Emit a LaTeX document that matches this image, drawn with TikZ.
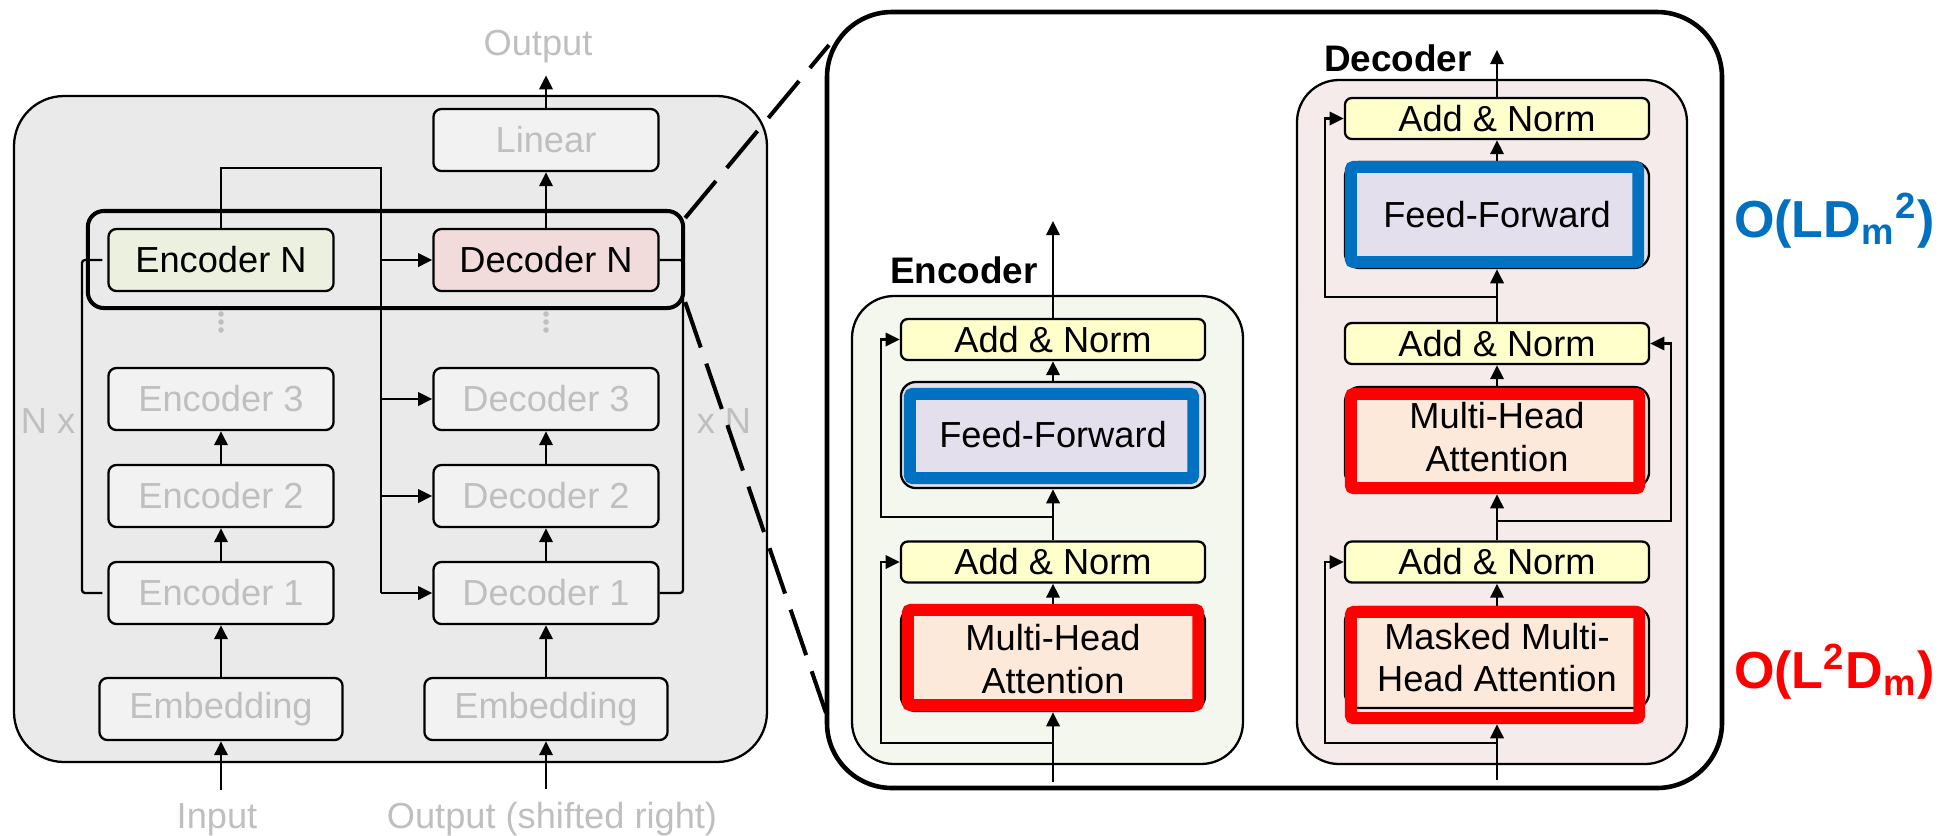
\documentclass[tikz,border=0pt]{standalone}
\usepackage{fontspec}
\setmainfont{Liberation Sans}
\usetikzlibrary{arrows.meta,calc}

\definecolor{panelgray}{RGB}{234,234,234}
\definecolor{boxgray}{RGB}{242,242,242}
\definecolor{txtgray}{RGB}{191,191,191}
\definecolor{encgreen}{RGB}{235,241,222}
\definecolor{decpink}{RGB}{242,220,219}
\definecolor{encpanel}{RGB}{244,247,238}
\definecolor{decpanel}{RGB}{245,235,235}
\definecolor{normyellow}{RGB}{255,255,204}
\definecolor{fflav}{RGB}{228,223,236}
\definecolor{attpeach}{RGB}{253,233,217}
\definecolor{cxblue}{RGB}{0,112,192}
\definecolor{cxred}{RGB}{255,0,0}

\tikzset{
  arr/.style={-{Triangle[length=4pt,width=3.8pt]}},
  layer/.style={draw,rounded corners=0.08cm,fill=boxgray,text=txtgray,minimum width=2.25cm,minimum height=0.62cm,inner sep=0pt},
  norm/.style={draw,fill=normyellow,rounded corners=0.07cm,minimum width=3.04cm,minimum height=0.41cm,inner sep=0pt},
  blk/.style={draw,rounded corners=0.15cm,minimum width=3.04cm,inner sep=0pt,align=center},
  ffline/.style={draw=cxblue,line width=3.4pt,rounded corners=0.03cm},
  attline/.style={draw=cxred,line width=3.4pt,rounded corners=0.03cm},
  title/.style={anchor=base west,inner sep=0pt,font=\bfseries\fontsize{10.5}{12.5}\selectfont},
  cx/.style={anchor=base west,inner sep=0pt,font=\bfseries\fontsize{14.8}{16}\selectfont}
}

\begin{document}
\begin{tikzpicture}[x=0.01cm,y=-0.01cm,line width=0.65pt,every node/.style={font=\fontsize{10.3}{12.2}\selectfont}]
\useasboundingbox (0,0) rectangle (1950,835);

% stack of layers
\draw[fill=panelgray,rounded corners=0.5cm] (14,96) rectangle (767,762);
\node[layer] (lin) at (546,140) {Linear};
\node[layer,fill=encgreen,text=black] (encN) at (221,260) {Encoder N};
\node[layer,fill=decpink,text=black] (decN) at (546,260) {Decoder N};
\foreach \i/\y in {3/399,2/496,1/593}{
  \node[layer] (enc\i) at (221,\y) {Encoder \i};
  \node[layer] (dec\i) at (546,\y) {Decoder \i};
}
\node[layer,minimum width=2.43cm] (embE) at (221,709) {Embedding};
\node[layer,minimum width=2.43cm] (embD) at (546,709) {Embedding};
\foreach \x in {221,546} \foreach \y in {314,322,330} \fill[txtgray] (\x,\y) circle (0.028cm);

\node[text=txtgray,anchor=base] (outL) at (538,55) {Output};
\node[text=txtgray,anchor=base] (inL) at (217,828) {Input};
\node[text=txtgray,anchor=base] (outR) at (552,828) {Output (shifted right)};
\node[text=txtgray,anchor=base] (nx) at (48,433) {N x};
\node[text=txtgray,anchor=base] (xn) at (724,433) {x N};

\foreach \a/\b in {embE/enc1,enc1/enc2,enc2/enc3,embD/dec1,dec1/dec2,dec2/dec3,decN/lin}
  \draw[arr] (\a.north) -- (\b.south);
\draw[arr] (lin.north) -- (lin |- outL.south);
\draw[arr] (embE |- inL.north) -- (embE.south);
\draw[arr] (embD |- outR.north) -- (embD.south);

\coordinate (bus) at (381,168);
\draw (encN.north) |- (bus) -- (bus |- dec1.west);
\foreach \d in {decN,dec3,dec2,dec1} \draw[arr] (bus |- \d.west) -- (\d.west);
\draw[rounded corners=0.03cm,shorten <=0.05cm,shorten >=0.05cm] (enc1.west) -- (82,593) |- (encN.west);
\draw[rounded corners=0.03cm] (dec1.east) -- (683,593) |- (decN.east);

\node[draw,line width=1.15pt,rounded corners=0.16cm,minimum width=5.95cm,minimum height=0.97cm] (zoom) at (385.5,259.5) {};

% zoomed block
\draw[line width=1.3pt,fill=white,rounded corners=0.65cm] (827,12) rectangle (1722,788);
\coordinate (zt) at (829,45);
\coordinate (zb) at (826,713);
\draw[line width=1.15pt,dash pattern=on 0.48cm off 0.17cm] ($(zoom.north east)+(0,9)$) -- (zt);
\draw[line width=1.15pt,dash pattern=on 0.48cm off 0.17cm] ($(zoom.south east)+(0,-8)$) -- (zb);

% encoder
\draw[fill=encpanel,rounded corners=0.42cm] (852,296) rectangle (1243,764);
\node[title] (encT) at (889,283) {Encoder};
\node[norm] (anE2) at (1053,339.5) {Add \& Norm};
\node[blk,fill=fflav,minimum height=1.06cm] (ffE) at (1053,435) {Feed-Forward};
\node[norm] (anE1) at (1053,562) {Add \& Norm};
\node[blk,fill=attpeach,minimum height=1.04cm] (mhaE) at (1053,659) {Multi-Head\\Attention};
\coordinate (inE) at (1053,782);
\coordinate (outE) at (1053,221);
\coordinate (tapE1) at (1053,743);
\coordinate (tapE2) at (1053,517);
\draw[arr] (inE) -- (mhaE.south);
\draw[arr] (mhaE.north) -- (anE1.south);
\draw[arr] (anE1.north) -- (ffE.south);
\draw[arr] (ffE.north) -- (anE2.south);
\draw[arr] (anE2.north) -- (outE);
\draw[arr] (tapE1) -| ($(anE1.west)+(-19,0)$) -- (anE1.west);
\draw[arr] (tapE2) -| ($(anE2.west)+(-19,0)$) -- (anE2.west);
\draw[ffline] ($(ffE.north west)+(10,13)$) rectangle ($(ffE.south east)+(-13,-11)$);
\draw[attline] ($(mhaE.north west)+(8,4)$) rectangle ($(mhaE.south east)+(-8,-7)$);

% decoder
\draw[fill=decpanel,rounded corners=0.42cm] (1297,80) rectangle (1687,764);
\node[title] (decT) at (1323,71) {Decoder};
\node[norm] (anD3) at (1497,118.5) {Add \& Norm};
\node[blk,fill=fflav,minimum height=1.06cm] (ffD) at (1497,215) {Feed-Forward};
\node[norm] (anD2) at (1497,343.5) {Add \& Norm};
\node[blk,fill=attpeach,minimum height=1.0cm] (mhaD) at (1497,437) {Multi-Head\\Attention};
\node[norm] (anD1) at (1497,562) {Add \& Norm};
\node[blk,fill=attpeach,minimum height=1.01cm] (mmhaD) at (1497,657.5) {Masked Multi-\\Head Attention};
\coordinate (inD) at (1497,780);
\coordinate (outD) at (1497,50);
\coordinate (tapD1) at (1497,743);
\coordinate (tapD2) at (1497,521);
\coordinate (tapD3) at (1497,297);
\draw[arr] (inD) -- ($(mmhaD.south)+(0,15)$);
\draw[arr] (mmhaD.north) -- (anD1.south);
\draw[arr] (anD1.north) -- ($(mhaD.south)+(0,6)$);
\draw[arr] (mhaD.north) -- (anD2.south);
\draw[arr] (anD2.north) -- (ffD.south);
\draw[arr] (ffD.north) -- (anD3.south);
\draw[arr] (anD3.north) -- (outD);
\draw[arr] (tapD1) -| ($(anD1.west)+(-19,0)$) -- (anD1.west);
\draw[arr] (tapD2) -| ($(anD2.east)+(21,0)$) -- (anD2.east);
\draw[arr] (tapD3) -| ($(anD3.west)+(-19,0)$) -- (anD3.west);
\draw[ffline] ($(ffD.north west)+(7,6)$) rectangle ($(ffD.south east)+(-12,-7)$);
\draw[attline] ($(mhaD.north west)+(7,8)$) rectangle ($(mhaD.south east)+(-11,0)$);
\draw[attline] ($(mmhaD.north west)+(7,6)$) rectangle ($(mmhaD.south east)+(-11,9)$);

% cost labels
\node[cx,text=cxblue] (cxff) at (1733,237) {O(LD\textsubscript{m}\textsuperscript{2})};
\node[cx,text=cxred] (cxatt) at (1733,688) {O(L\textsuperscript{2}D\textsubscript{m})};
\end{tikzpicture}
\end{document}
